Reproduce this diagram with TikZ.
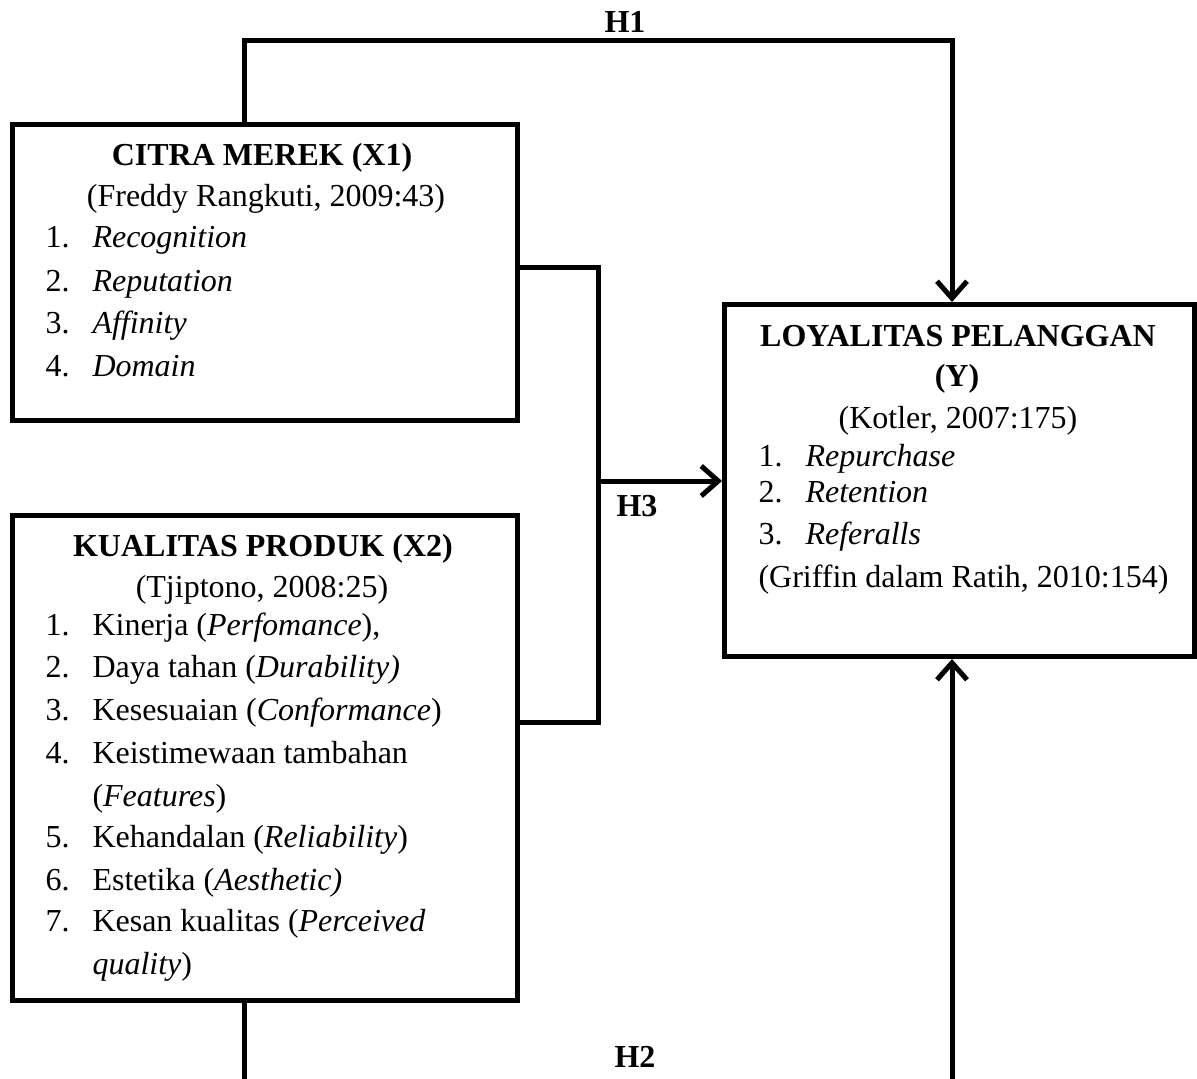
\documentclass[tikz,border=0pt]{standalone}
\usepackage{fontspec}
\setmainfont{Liberation Serif}
\usetikzlibrary{arrows.meta}
\newcommand{\diagfont}{\fontsize{32}{43}\selectfont}

\begin{document}
\begin{tikzpicture}[x=1pt,y=-1pt,line width=5pt,
  box/.style={draw=black, anchor=north west},
  conn/.style={draw=black},
  arr/.style={conn, -{Straight Barb[length=17pt,width=30pt]}},
  txt/.style={anchor=base west, font=\diagfont},
  ctr/.style={anchor=base, font=\diagfont},
  ttl/.style={anchor=base, font=\diagfont\bfseries},
  hyp/.style={anchor=base, font=\diagfont\bfseries}]
\tikzstyle{every node}+=[inner sep=0pt]
\useasboundingbox (0,0) rectangle (1197,1079);
\node [box, minimum width=505pt, minimum height=296pt] (x1) at (10,122) {};
\node [box, minimum width=505pt, minimum height=485pt] (x2) at (10,513) {};
\node [box, minimum width=470pt, minimum height=352pt] (y) at (722,302) {};
\node [ttl] (x1t) at (262,165) {CITRA MEREK (X1)};
\node [ctr] (x1c) at (266,206) {(Freddy Rangkuti, 2009:43)};
\node [txt] (x1n1) at (43,247) {1.};
\node [txt] (x1i1) at (90,247) {\textit{Recognition}};
\node [txt] (x1n2) at (43,291) {2.};
\node [txt] (x1i2) at (90,291) {\textit{Reputation}};
\node [txt] (x1n3) at (43,333) {3.};
\node [txt] (x1i3) at (90,333) {\textit{Affinity}};
\node [txt] (x1n4) at (43,376) {4.};
\node [txt] (x1i4) at (90,376) {\textit{Domain}};
\node [ttl] (x2t) at (263,556) {KUALITAS PRODUK (X2)};
\node [ctr] (x2c) at (262,597) {(Tjiptono, 2008:25)};
\node [txt] (x2n1) at (43,635) {1.};
\node [txt] (x2i1) at (90,635) {Kinerja (\textit{Perfomance}),};
\node [txt] (x2n2) at (43,677) {2.};
\node [txt] (x2i2) at (90,677) {Daya tahan (\textit{Durability)}};
\node [txt] (x2n3) at (43,720) {3.};
\node [txt] (x2i3) at (90,720) {Kesesuaian (\textit{Conformance})};
\node [txt] (x2n4) at (43,763) {4.};
\node [txt] (x2i4) at (90,763) {Keistimewaan tambahan};
\node [txt] (x2i4b) at (90,806) {(\textit{Features})};
\node [txt] (x2n5) at (43,847) {5.};
\node [txt] (x2i5) at (90,847) {Kehandalan (\textit{Reliability})};
\node [txt] (x2n6) at (43,890) {6.};
\node [txt] (x2i6) at (90,890) {Estetika (\textit{Aesthetic)}};
\node [txt] (x2n7) at (43,931) {7.};
\node [txt] (x2i7) at (90,931) {Kesan kualitas (\textit{Perceived}};
\node [txt] (x2i7b) at (90,974) {\textit{quality})};
\node [ttl] (yt) at (958,346) {LOYALITAS PELANGGAN};
\node [ttl] (yt2) at (957,386) {(Y)};
\node [ctr] (yc) at (958,428) {(Kotler, 2007:175)};
\node [txt] (yn1) at (756,466) {1.};
\node [txt] (yi1) at (803,466) {\textit{Repurchase}};
\node [txt] (yn2) at (756,502) {2.};
\node [txt] (yi2) at (803,502) {\textit{Retention}};
\node [txt] (yn3) at (756,544) {3.};
\node [txt] (yi3) at (803,544) {\textit{Referalls}};
\node [txt] (yg) at (756,587) {(Griffin dalam Ratih, 2010:154)};
\coordinate (h1a) at (244,40);
\coordinate (h1b) at (952,40);
\draw [arr] (h1a |- x1.north) -- (h1a) -- (h1b) -- (h1b |- y.north);
\node [hyp] (h1) at (625,32) {H1};
\coordinate (h3a) at (598,267);
\coordinate (h3b) at (598,722);
\coordinate (h3m) at (598,481);
\draw [conn] (x1.east |- h3a) -- (h3a) -- (h3b) -- (x2.east |- h3b);
\draw [arr] (h3m) -- (h3m -| y.west);
\node [hyp] (h3) at (637,516) {H3};
\coordinate (h2a) at (244,1082);
\coordinate (h2b) at (952,1082);
\draw [conn] (h2a |- x2.south) -- (h2a);
\draw [arr] (h2b) -- (h2b |- y.south);
\node [hyp] (h2) at (635,1067) {H2};
\end{tikzpicture}
\end{document}
